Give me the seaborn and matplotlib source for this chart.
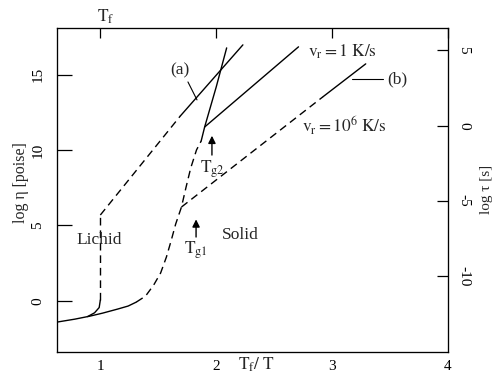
import matplotlib
matplotlib.use("Agg")
import matplotlib.pyplot as plt
import numpy as np
import pandas as pd
import seaborn as sns

sns.set_style("white")
plt.rcParams["font.family"] = ["Liberation Serif", "DejaVu Serif"]
plt.rcParams["mathtext.fontset"] = "stix"

# --- curves: log viscosity vs reduced inverse temperature Tf/T ---
# stable liquid branch
liq_x = [0.63, 0.78, 0.91, 1.02, 1.15, 1.24, 1.31]
liq_y = [-1.41, -1.22, -1.02, -0.82, -0.55, -0.35, -0.09]
# supercooled liquid (dashed)
scl_x = [1.31, 1.39, 1.46, 1.52, 1.57, 1.61, 1.65, 1.70, 1.74, 1.78, 1.83, 1.87]
scl_y = [-0.09, 0.31, 1.04, 1.84, 2.90, 3.96, 5.09, 6.22, 7.55, 8.81, 10.01, 10.60]
# upper steep branch
eq_x = [1.87, 1.90, 2.00, 2.09]
eq_y = [10.60, 11.53, 14.19, 16.78]

# crystallisation path (a)
bend_x = [0.89, 0.95, 0.99, 1.00]
bend_y = [-1.05, -0.80, -0.45, 0.05]
jump_x = [1.00, 1.00]
jump_y = [0.05, 5.69]
cry_dash_x = [1.00, 1.69]
cry_dash_y = [5.69, 12.26]
cry_x = [1.69, 2.23]
cry_y = [12.26, 16.98]

# glass, fast cooling (b), vr = 1e6 K/s
fast_dash_x = [1.70, 2.92]
fast_dash_y = [6.22, 13.53]
fast_x = [2.92, 3.29]
fast_y = [13.53, 15.72]

# glass, slow cooling, vr = 1 K/s
slow_x = [1.90, 2.71]
slow_y = [11.53, 16.85]

x_ticks = [1, 2, 3, 4]
y_ticks = [0, 5, 10, 15]
tau_ticks = [-10, -5, 0, 5]
tau_labels = ["-10", "-5", "0", "5"]

segments = [
    (liq_x, liq_y, "solid"),
    (scl_x, scl_y, "dashed"),
    (eq_x, eq_y, "solid"),
    (bend_x, bend_y, "solid"),
    (jump_x, jump_y, "dashed"),
    (cry_dash_x, cry_dash_y, "dashed"),
    (cry_x, cry_y, "solid"),
    (fast_dash_x, fast_dash_y, "dashed"),
    (fast_x, fast_y, "solid"),
    (slow_x, slow_y, "solid"),
]
rows = []
for i, (xs, ys, ls) in enumerate(segments):
    for xv, yv in zip(xs, ys):
        rows.append({"x": xv, "y": yv, "seg": i, "ls": ls})
df = pd.DataFrame(rows)

fig = plt.figure(figsize=(4.94, 3.76), dpi=100)
ax = fig.add_axes([57 / 494, 24 / 376, 391 / 494, 324 / 376])

sns.lineplot(data=df, x="x", y="y", units="seg", style="ls",
             dashes={"solid": "", "dashed": (5.5, 3.5)},
             estimator=None, sort=False, color="black", lw=1.0,
             legend=False, ax=ax)

ax.set_xlim(0.626, 4.0)
ax.set_ylim(-3.4, 18.1)
ax.set_xticks(x_ticks)
ax.set_xticklabels([str(t) for t in x_ticks])
ax.set_yticks(y_ticks)
ax.set_yticklabels([str(t) for t in y_ticks])
ax.set_xlabel("")
ax.set_ylabel("")
for s in ax.spines.values():
    s.set_visible(True)
    s.set_linewidth(0.95)
    s.set_color("black")

ax.tick_params(axis="x", direction="in", length=7.5, width=0.9, top=True,
               labelsize=11, pad=6, colors="black")
ax.tick_params(axis="y", direction="in", length=11, width=0.9, right=False,
               labelsize=11, labelrotation=90, pad=9, colors="black")
for lab in ax.get_yticklabels():
    lab.set_va("center")

ax2 = ax.twinx()
ax2.set_ylim(-15.03, 6.47)
ax2.set_yticks(tau_ticks)
ax2.set_yticklabels(tau_labels)
ax2.tick_params(axis="y", direction="in", length=8, width=0.9,
                labelsize=11, labelrotation=-90, pad=6.5, colors="black")
for lab in ax2.get_yticklabels():
    lab.set_va("center")
for s in ax2.spines.values():
    s.set_visible(False)

fs = 12.5
ax.text(1.687, 15.32, "(a)", fontsize=fs, ha="center", va="center")
ax.plot([1.756, 1.834], [14.52, 13.33], color="black", lw=0.8)
ax.text(2.792, 16.51, r"$\mathrm{v_r = 1\ K/s}$", fontsize=fs, ha="left", va="center")
ax.plot([3.171, 3.439], [14.72, 14.72], color="black", lw=0.8)
ax.text(3.473, 14.72, "(b)", fontsize=fs, ha="left", va="center")
ax.text(2.74, 11.60, r"$\mathrm{v_r = 10^6\ K/s}$", fontsize=fs, ha="left", va="center")

arrow = dict(arrowstyle="-|>", color="black", lw=1.0, mutation_scale=11,
             shrinkA=0, shrinkB=0)
ax.annotate("", xy=(1.963, 10.95), xytext=(1.963, 9.67), arrowprops=arrow)
ax.text(1.963, 9.45, r"$\mathrm{T_{g2}}$", fontsize=fs, ha="center", va="top")
ax.annotate("", xy=(1.826, 5.40), xytext=(1.826, 4.23), arrowprops=arrow)
ax.text(1.826, 4.05, r"$\mathrm{T_{g1}}$", fontsize=fs, ha="center", va="top")
ax.text(2.05, 4.36, "Solid", fontsize=fs, ha="left", va="center")
ax.text(0.79, 4.03, "Lichid", fontsize=fs, ha="left", va="center")

fig.text(106 / 494, 1 - 17 / 376, r"$\mathrm{T_f}$", fontsize=fs, ha="center", va="center")
fig.text(238 / 494, 1 - 374 / 376, r"$\mathrm{T_f /\ T}$", fontsize=fs,
         ha="left", va="bottom")
fig.text(21 / 494, 1 - 183 / 376, "log η [poise]", fontsize=11.5, rotation=90,
         ha="center", va="center")
fig.text(493 / 494, 1 - 189 / 376, "log τ [s]", fontsize=11, rotation=90,
         ha="right", va="center")

fig.savefig("out.png", dpi=100)
